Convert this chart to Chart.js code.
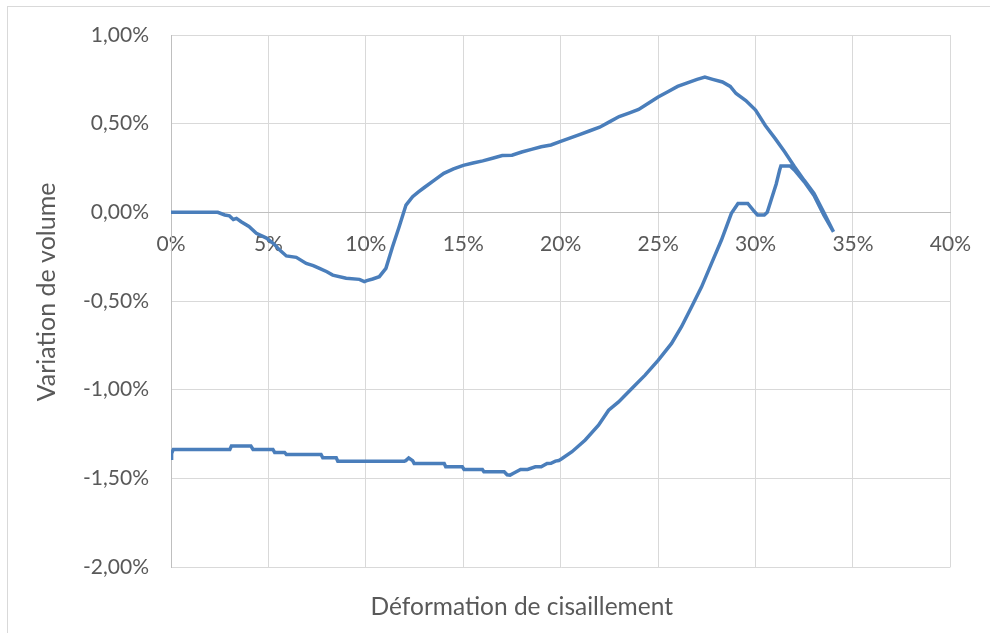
<!DOCTYPE html>
<html>
<head>
<meta charset="utf-8">
<script src="https://cdn.jsdelivr.net/npm/chart.js@4/dist/chart.umd.min.js"></script>
<style>
  html, body { margin: 0; padding: 0; background: #ffffff; overflow: hidden; }
  #wrap { position: relative; width: 990px; height: 633px; }
  #frame { position: absolute; left: 7px; top: 6px; width: 1000px; height: 700px; border-left: 1px solid #d9d9d9; border-top: 1px solid #d9d9d9; pointer-events: none; }
  canvas { position: absolute; left: 0; top: 0; }
</style>
</head>
<body>
<div id="wrap">
  <canvas id="c" width="990" height="633"></canvas>
  <div id="frame"></div>
</div>
<script>
// Shear strain (%) and volume change (%), in path order
const strain = [
  0, 1, 2, 2.4, 2.76, 3.0, 3.2, 3.36, 3.6, 4.0, 4.38, 4.9, 5.3, 5.58, 5.92, 6.43, 6.94, 7.3, 7.62, 8.0, 8.3, 8.99, 9.67, 9.92, 10.05, 10.35, 10.69, 11.03, 11.37, 11.71, 12.06, 12.4, 12.7, 13.0, 13.5, 14.0, 14.5, 15.0, 15.5, 16.0, 16.5, 17.0, 17.5, 18.0, 18.5, 19.0, 19.5, 20.0, 20.5, 21.0, 21.5, 22.0, 22.5, 23.0, 23.5, 24.0, 24.5, 25.0, 25.5, 26.0, 26.5, 27.0, 27.4, 27.8, 28.3, 28.7, 29.0, 29.5, 30.0, 30.5, 31.0, 31.5, 32.0, 32.5, 33.0, 33.5, 34.0,
  33.5, 33.0, 32.5, 32.0, 31.77, 31.3, 31.24, 31.06, 30.8, 30.6, 30.45, 30.1, 29.9, 29.6, 29.1, 28.76, 28.25, 27.74, 27.23, 26.72, 26.2, 25.69, 25.01, 24.33, 23.65, 22.97, 22.46, 21.94, 21.26, 20.58, 20.07, 19.9, 19.73, 19.5, 19.3, 19.0, 18.7, 18.3, 17.94, 17.6, 17.4, 17.25, 17.1, 16.06, 15.98, 15.04, 14.95, 14.1, 14.02, 12.48, 12.4, 12.2, 12.05, 11.97, 8.56, 8.48, 7.79, 7.7, 5.92, 5.83, 5.32, 5.23, 4.21, 4.1, 3.1, 3.02, 0.12, 0.03, 0.03
];
const volume = [
  0, 0, 0, 0, -0.015, -0.02, -0.04, -0.034, -0.053, -0.08, -0.118, -0.145, -0.18, -0.213, -0.246, -0.254, -0.288, -0.30, -0.316, -0.335, -0.354, -0.372, -0.378, -0.391, -0.385, -0.376, -0.363, -0.316, -0.194, -0.081, 0.041, 0.088, 0.115, 0.14, 0.18, 0.22, 0.245, 0.265, 0.278, 0.29, 0.305, 0.32, 0.322, 0.34, 0.355, 0.37, 0.38, 0.40, 0.42, 0.44, 0.46, 0.48, 0.51, 0.54, 0.56, 0.58, 0.615, 0.65, 0.68, 0.71, 0.73, 0.75, 0.763, 0.75, 0.735, 0.71, 0.67, 0.63, 0.577, 0.49, 0.417, 0.34, 0.257, 0.18, 0.107, 0.0, -0.11,
  -0.015, 0.095, 0.172, 0.238, 0.261, 0.261, 0.24, 0.16, 0.07, 0.0, -0.015, -0.015, 0.01, 0.05, 0.05, -0.006, -0.156, -0.288, -0.42, -0.532, -0.645, -0.739, -0.833, -0.918, -0.993, -1.069, -1.116, -1.2, -1.284, -1.35, -1.388, -1.40, -1.403, -1.415, -1.416, -1.435, -1.435, -1.45, -1.45, -1.47, -1.482, -1.48, -1.463, -1.463, -1.45, -1.45, -1.435, -1.435, -1.416, -1.416, -1.40, -1.385, -1.40, -1.403, -1.403, -1.384, -1.384, -1.365, -1.365, -1.354, -1.354, -1.337, -1.337, -1.318, -1.318, -1.337, -1.337, -1.36, -1.397
];
const xTicks = [0, 5, 10, 15, 20, 25, 30, 35, 40];
const yTicks = [-2, -1.5, -1, -0.5, 0, 0.5, 1];
const xTitle = 'Déformation de cisaillement';
const yTitle = 'Variation de volume';

const points = strain.map((s, i) => ({ x: s, y: volume[i] }));
const textColor = '#595959';
const gridColor = '#d9d9d9';
const axisColor = '#bfbfbf';
const fontFamily = 'Lato, "Open Sans", sans-serif';

const titlesPlugin = {
  id: 'axisTitles',
  afterDraw(chart) {
    const ctx = chart.ctx;
    const a = chart.chartArea;
    ctx.save();
    ctx.fillStyle = textColor;
    ctx.textAlign = 'center';
    ctx.textBaseline = 'middle';
    ctx.font = '24.5px ' + fontFamily;
    ctx.fillText(xTitle, a.left + (a.right - a.left) * 0.45, a.bottom + 40);
    ctx.font = '25px ' + fontFamily;
    ctx.translate(47, a.top + (a.bottom - a.top) * 0.483);
    ctx.rotate(-Math.PI / 2);
    ctx.fillText(yTitle, 0, 0);
    ctx.restore();
  }
};

new Chart(document.getElementById('c'), {
  type: 'scatter',
  data: {
    datasets: [{
      data: points,
      showLine: true,
      borderColor: '#4a7ebb',
      backgroundColor: '#4a7ebb',
      borderWidth: 3.5,
      pointRadius: 0,
      tension: 0,
      fill: false
    }]
  },
  options: {
    responsive: false,
    animation: false,
    layout: { padding: { top: 35, right: 37, bottom: 66, left: 7 } },
    plugins: { legend: { display: false }, tooltip: { enabled: false } },
    scales: {
      x: {
        type: 'linear',
        min: 0, max: 40,
        position: { y: 0 },
        afterBuildTicks: s => { s.ticks = xTicks.map(v => ({ value: v })); },
        ticks: {
          autoSkip: false,
          maxRotation: 0,
          padding: 19,
          color: textColor,
          font: { family: fontFamily, size: 21 },
          callback: v => v + '%'
        },
        grid: {
          drawTicks: false,
          color: c => (c.tick && c.tick.value === 0 ? axisColor : gridColor),
          lineWidth: 1
        },
        border: { color: axisColor, width: 1 }
      },
      y: {
        type: 'linear',
        min: -2, max: 1,
        afterBuildTicks: s => { s.ticks = yTicks.map(v => ({ value: v })); },
        afterFit: s => { s.width = 164; },
        ticks: {
          padding: 22,
          color: textColor,
          font: { family: fontFamily, size: 21 },
          callback: v => v.toFixed(2).replace('.', ',') + '%'
        },
        grid: {
          drawTicks: false,
          color: c => (c.tick && c.tick.value === 0 ? axisColor : gridColor),
          lineWidth: 1
        },
        border: { color: axisColor, width: 1 }
      }
    }
  },
  plugins: [titlesPlugin]
});
</script>
</body>
</html>
